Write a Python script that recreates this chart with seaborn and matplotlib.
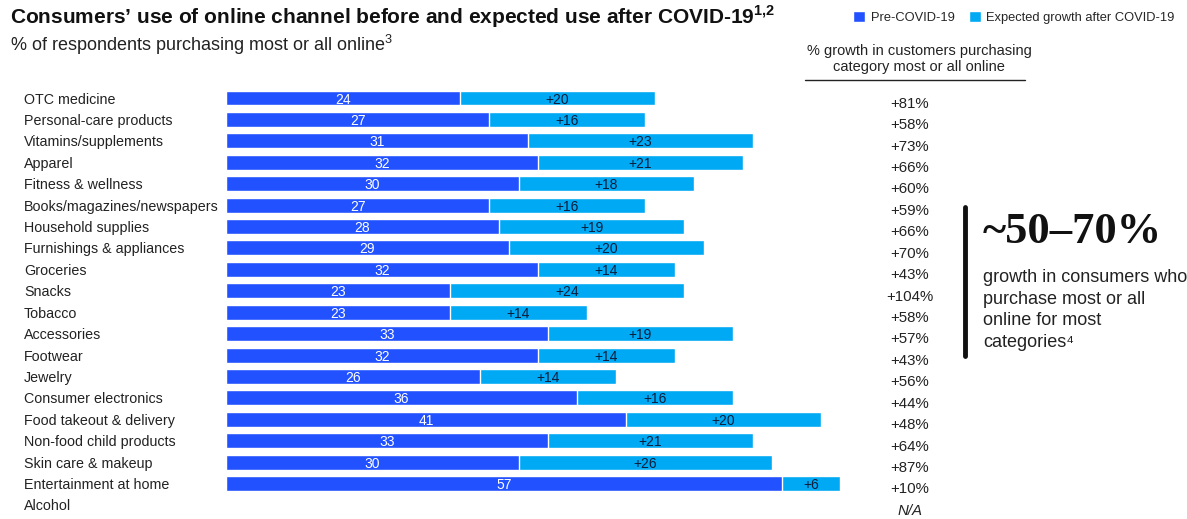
import numpy as np
import pandas as pd
import seaborn as sns
import matplotlib
matplotlib.use("Agg")
import matplotlib.pyplot as plt
from matplotlib.patches import Patch
from matplotlib.transforms import blended_transform_factory

categories = ["OTC medicine", "Personal-care products", "Vitamins/supplements", "Apparel",
              "Fitness & wellness", "Books/magazines/newspapers", "Household supplies",
              "Furnishings & appliances", "Groceries", "Snacks", "Tobacco", "Accessories",
              "Footwear", "Jewelry", "Consumer electronics", "Food takeout & delivery",
              "Non-food child products", "Skin care & makeup", "Entertainment at home", "Alcohol"]
pre_covid = [24, 27, 31, 32, 30, 27, 28, 29, 32, 23, 23, 33, 32, 26, 36, 41, 33, 30, 57, np.nan]
growth = [20, 16, 23, 21, 18, 16, 19, 20, 14, 24, 14, 19, 14, 14, 16, 20, 21, 26, 6, np.nan]
growth_pct = ["+81%", "+58%", "+73%", "+66%", "+60%", "+59%", "+66%", "+70%", "+43%", "+104%",
              "+58%", "+57%", "+43%", "+56%", "+44%", "+48%", "+64%", "+87%", "+10%", "N/A"]

DARK = "#2251FF"
LIGHT = "#00A9F4"
NAVY = "#0b1d3a"

sns.set_theme(style="white")
plt.rcParams["font.family"] = ["Liberation Sans", "DejaVu Sans"]
plt.rcParams["mathtext.fontset"] = "custom"
plt.rcParams["mathtext.rm"] = "Liberation Sans"
plt.rcParams["mathtext.bf"] = "Liberation Sans:bold"

df = pd.DataFrame({"category": categories, "pre": pre_covid, "growth": growth})
df["total"] = df["pre"] + df["growth"]

W, H = 1187, 519
fig = plt.figure(figsize=(W / 100, H / 100), dpi=100)
px = 9.75
row = 21.42
top_px = 98 - row / 2
ax = fig.add_axes([226 / W, 1 - (top_px + 20 * row) / H, 70 * px / W, 20 * row / H])

sns.barplot(data=df, x="total", y="category", order=categories, color=LIGHT, width=0.7,
            saturation=1, edgecolor="white", linewidth=1, ax=ax, orient="h")
sns.barplot(data=df, x="pre", y="category", order=categories, color=DARK, width=0.7,
            saturation=1, edgecolor="white", linewidth=1, ax=ax, orient="h")

ax.set_xlim(0, 70)
ax.set_ylim(19.5, -0.5)
ax.set_xlabel("")
ax.set_ylabel("")
ax.set_xticks([])
for s in ax.spines.values():
    s.set_visible(False)
ax.tick_params(axis="y", length=0, pad=(226 - 24) * 0.72)
for lab in ax.get_yticklabels():
    lab.set_ha("left")
    lab.set_fontsize(10.3)
    lab.set_color("#222222")

for i, (p, g) in enumerate(zip(pre_covid, growth)):
    if np.isnan(p):
        continue
    ax.text(p / 2, i, f"{p:g}", ha="center", va="center_baseline", color="white", fontsize=10)
    ax.text(p + g / 2, i, f"+{g:g}", ha="center", va="center_baseline", color=NAVY, fontsize=10)

# right-hand growth column
trans = blended_transform_factory(fig.transFigure, ax.transData)
for i, t in enumerate(growth_pct):
    ax.text(910 / W, i + 0.2, t, transform=trans, ha="center", va="center_baseline", fontsize=10.8,
            color="#222222", style="italic" if t == "N/A" else "normal")

fig.text(919 / W, 1 - 59 / H, "% growth in customers purchasing\ncategory most or all online",
         ha="center", va="center", fontsize=10.5, color="#222222", linespacing=1.25)
fig.add_artist(plt.Line2D([805 / W, 1025 / W], [1 - 80 / H, 1 - 80 / H], color="#222222", lw=1))

# titles
fig.text(10 / W, 1 - 17 / H, "Consumers\u2019 use of online channel before and expected use after COVID-19" + r"$^{\mathbf{1{,}2}}$",
         ha="left", va="center", fontsize=15, fontweight="bold", color="#111111")
fig.text(10 / W, 1 - 45 / H, r"% of respondents purchasing most or all online$^{3}$",
         ha="left", va="center", fontsize=13, color="#222222")

# legend
handles = [Patch(facecolor=DARK, label="Pre-COVID-19"), Patch(facecolor=LIGHT, label="Expected growth after COVID-19")]
fig.legend(handles=handles, loc="upper right", bbox_to_anchor=(1180 / W, 1 - 6 / H), ncol=2,
           frameon=False, fontsize=9.3, handlelength=0.9, handleheight=0.9, handletextpad=0.45,
           columnspacing=1.1, borderaxespad=0)

# callout
fig.add_artist(plt.Line2D([965 / W, 965 / W], [1 - 207 / H, 1 - 356 / H], color="#111111", lw=3.5))
fig.text(983 / W, 1 - 232 / H, "~50\u201370%", ha="left", va="center", fontsize=32,
         fontweight="bold", family=["Liberation Serif", "DejaVu Serif"], color="#111111")
fig.text(983 / W, 1 - 310 / H, "growth in consumers who\npurchase most or all\nonline for most\ncategories\u2074",
         ha="left", va="center", fontsize=13, color="#222222", linespacing=1.38)

fig.savefig("out.png", dpi=100)
